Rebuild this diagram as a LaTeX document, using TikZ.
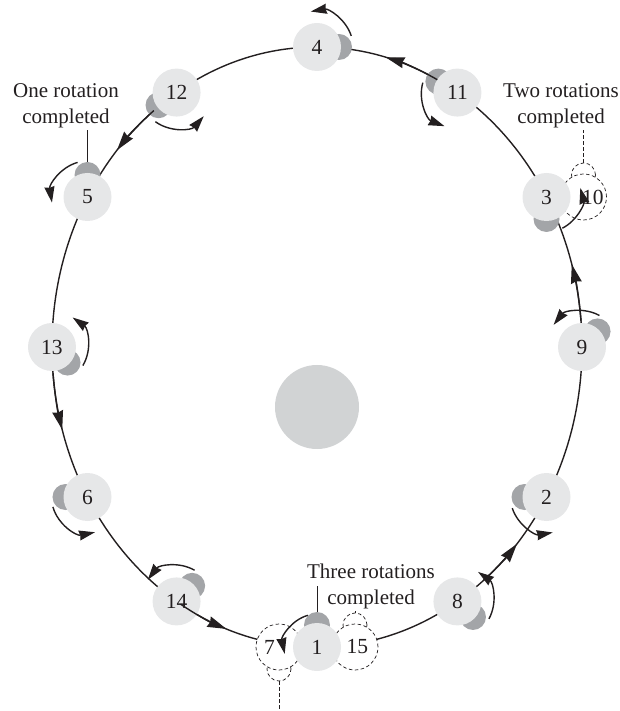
\documentclass[tikz,border=0pt]{standalone}
\usepackage{fontspec}
\setmainfont{Liberation Serif}
\usepackage{xcolor}
\usetikzlibrary{positioning,arrows.meta,calc}
\definecolor{mnbody}{RGB}{230,231,232}
\definecolor{mnmark}{RGB}{163,165,168}
\definecolor{mnearth}{RGB}{209,211,212}
\definecolor{mnink}{RGB}{35,31,32}
\tikzset{
  moon/.style={circle, fill=mnbody, minimum size=48pt, inner sep=0pt,
    font=\fontsize{21.5}{26}\selectfont, text=mnink},
  ghost/.style={circle, draw=mnink, fill=white, line width=0.7pt,
    dash pattern=on 3.5pt off 2.5pt, minimum size=46pt, inner sep=0pt,
    font=\fontsize{21.5}{26}\selectfont, text=mnink},
  bump/.style={circle, fill=mnmark, minimum size=26pt, inner sep=0pt},
  ghostbump/.style={circle, draw=mnink, fill=white, line width=0.7pt,
    dash pattern=on 3.5pt off 2.5pt, minimum size=24pt, inner sep=0pt},
  orbit/.style={draw=mnink, line width=1.4pt},
  spin/.style={draw=mnink, line width=1.4pt,
    -{Stealth[length=16pt,width=10pt,inset=1pt]}},
  lbl/.style={align=center, font=\fontsize{21}{26}\selectfont, text=mnink,
    inner sep=2pt},
  leader/.style={draw=mnink, line width=1pt},
  dleader/.style={draw=mnink, line width=0.7pt, dash pattern=on 3.5pt off 2.5pt},
}

\begin{document}
\begin{tikzpicture}[x=1pt, y=1pt]
\useasboundingbox (-317,-364) rectangle (303,347);

% ================= planet and orbit =================
\fill[mnearth] (0,-60) circle (42);
\draw[orbit] (0,0) ellipse [x radius=265, y radius=300];

% positions along the orbit (parametric angle)
\foreach \nm/\t in {4/90, 11/58, 3/30, 9/0, 2/-30, 8/-58, 1/-90,
                    14/-122, 6/-150, 13/180, 5/150, 12/122}
  \coordinate (p\nm) at ({265*cos(\t)},{300*sin(\t)});
\coordinate (p10) at ($(p3)+(37,0)$);
\coordinate (p7)  at ($(p1)+(-38,0)$);
\coordinate (p15) at ($(p1)+(38,0)$);

% ================= ghost positions =================
\node[ghostbump] (b10) at ($(p10)+(90:22)$) {};
\node[ghostbump] (b15) at ($(p15)+(90:22)$) {};
\node[ghostbump] (b7)  at ($(p7)+(-90:22)$) {};
\node[ghost] (n10) at (p10) {\makebox[40pt][r]{10}};
\node[ghost] (n15) at (p15) {\makebox[26pt][r]{15}};
\node[ghost] (n7)  at (p7)  {\makebox[30pt][l]{7}};

% ================= moons =================
\foreach \nm/\d in {4/0, 11/150, 3/-90, 9/45, 2/180, 8/-45, 1/90,
                    14/45, 6/180, 13/-45, 5/90, 12/-145}
  \node[bump] (b\nm) at ($(p\nm)+(\d:22)$) {};
\foreach \nm in {4, 11, 3, 9, 2, 8, 1, 14, 6, 13, 5, 12}
  \node[moon] (n\nm) at (p\nm) {\nm};

% ================= labels =================
\node[lbl] (lab5)  at (-251,241) {One rotation\\completed};
\node[lbl] (lab10) at (244,241)  {Two rotations\\completed};
\node[lbl] (lab1)  at (54,-239)  {Three rotations\\completed};
\draw[leader]  (b5.north) -- (b5.north |- lab5.south);
\draw[dleader] (b10.north) -- (b10.north |- lab10.south);
\draw[leader]  (b1.north) -- (b1.north |- lab1.center);
\draw[dleader] (b15.north) -- (b15.north |- lab1.south);
\coordinate (bot7) at (p7 |- 0,-364);
\draw[dleader] (b7.south) -- (bot7);

% ================= spin arrows =================
\foreach \nm/\a/\b/\r in {4/18/100/36, 11/164/249/36, 3/-63/15/35,
                          9/61/142/36, 2/198/280/36, 8/-29/55/36,
                          1/106/192/33, 14/60/143/36, 6/196/282/36,
                          13/-31/55/36, 5/106/189/36, 12/234/319/36}
  \draw[spin] ($(p\nm)+(\a:\r)$) arc[start angle=\a, end angle=\b, radius=\r];

% ================= orbit direction =================
\foreach \a/\b in {63/75, 128/139, 185/196, 239/250, -51/-41, 5/16}
  \draw[orbit, -{Stealth[length=19pt,width=11pt,inset=1.5pt]}]
    ({265*cos(\a)},{300*sin(\a)}) arc[start angle=\a, end angle=\b,
                                      x radius=265, y radius=300];
\end{tikzpicture}
\end{document}
